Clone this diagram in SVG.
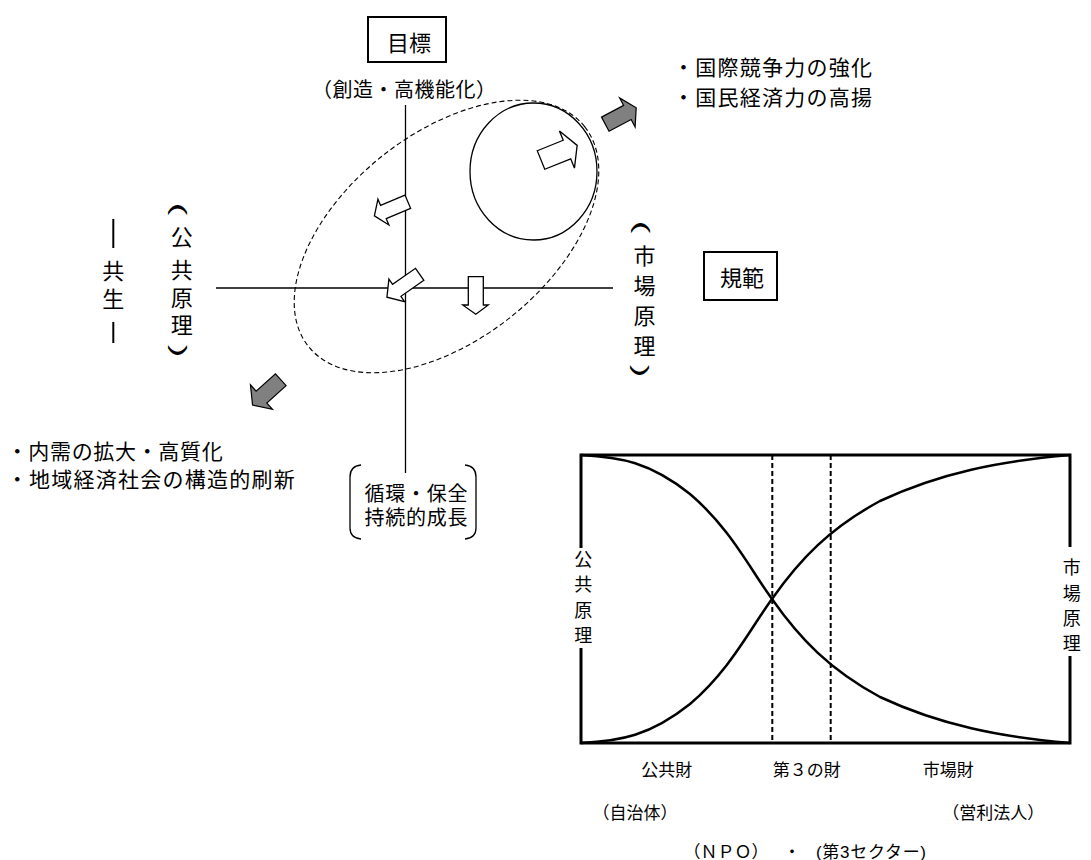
<svg xmlns="http://www.w3.org/2000/svg" width="1091" height="860" viewBox="0 0 1091 860">
<style>
text{font-family:'Liberation Sans','Noto Sans CJK JP',sans-serif;fill:#000}
.f22{font-size:22px}
.f21{font-size:21px}
.f20{font-size:20px}
.f18{font-size:18px}
.f17{font-size:17px}
.m{text-anchor:middle}
.par{font-family:'Liberation Sans',sans-serif;font-size:20px;text-anchor:middle}
.ax{stroke:#000;stroke-width:1.3;fill:none}
.dash{stroke:#000;stroke-width:1.1;fill:none;stroke-dasharray:5,3}
.wa{fill:#fff;stroke:#000;stroke-width:1.3;stroke-linejoin:miter}
.ga{fill:#808080;stroke:#000;stroke-width:1.2}
.box{fill:#fff;stroke:#000;stroke-width:2}
.thick{fill:none;stroke:#000;stroke-width:3}
.crv{fill:none;stroke:#000;stroke-width:2.5}
.vd{stroke:#000;stroke-width:2;stroke-dasharray:5,3}
</style>
<rect width="1091" height="860" fill="#fff"/>

<g id="connectors">
  <line class="ax" x1="405.5" y1="105" x2="405.5" y2="473"/>
  <line class="ax" x1="216" y1="288" x2="613" y2="288"/>
  <ellipse class="dash" cx="446.5" cy="236.5" rx="176.5" ry="103" transform="rotate(-38.5 446.5 236.5)"/>
  <ellipse class="ax" cx="533.5" cy="171.5" rx="63.5" ry="68.5"/>
  <polygon class="wa" points="0,-10 28,-10 28,-20 39,0 28,20 28,10 0,10" transform="translate(541,160) rotate(-22)"/>
  <polygon class="ga" points="0,-8 25,-8 25,-16.5 35,0 25,16.5 25,8 0,8" transform="translate(605.3,124.2) rotate(-28)"/>
  <polygon class="ga" points="0,-8 26,-8 26,-16.5 38,0 26,16.5 26,8 0,8" transform="translate(280.8,379.7) rotate(138)"/>
  <polygon class="wa" points="0,-7.2 26.5,-7.2 26.5,-14 36.3,0 26.5,14 26.5,7.2 0,7.2" transform="translate(407.8,201.7) rotate(157)"/>
  <polygon class="wa" points="0,-7.3 28,-7.3 28,-13.7 40,0 28,13.7 28,7.3 0,7.3" transform="translate(419.7,274.3) rotate(145)"/>
  <polygon class="wa" points="468.3,276.7 483.3,276.7 483.3,305 488.3,305 475.8,314.3 462.7,305 468.3,305"/>
</g>

<g id="goal">
  <rect class="box" x="368" y="17" width="78" height="45"/>
  <text class="f22 m" x="409" y="50.6">目標</text>
  <text class="f20 m" x="404" y="97.4" textLength="184" lengthAdjust="spacing">（創造・高機能化）</text>
</g>

<g id="norm">
  <rect class="box" x="704" y="252" width="73" height="48"/>
  <text class="f22 m" x="742" y="285.6">規範</text>
</g>

<g id="top-right-text">
  <text class="f21" x="673" y="74.5" textLength="199" lengthAdjust="spacing">・国際競争力の強化</text>
  <text class="f21" x="673" y="104.5" textLength="199" lengthAdjust="spacing">・国民経済力の高揚</text>
</g>

<g id="bottom-left-text">
  <text class="f21" x="6.7" y="458.5" textLength="216" lengthAdjust="spacing">・内需の拡大・高質化</text>
  <text class="f21" x="6.7" y="486.5" textLength="288" lengthAdjust="spacing">・地域経済社会の構造的刷新</text>
</g>

<g id="public-principle">
  <text class="par" transform="translate(172.3,209) rotate(90) scale(1.9,1)">(</text>
  <text class="f22 m" x="181.7" y="244.8">公</text>
  <text class="f22 m" x="181.7" y="278.1">共</text>
  <text class="f22 m" x="181.7" y="306.1">原</text>
  <text class="f22 m" x="181.7" y="333.1">理</text>
  <text class="par" transform="translate(172.3,351) rotate(90) scale(1.9,1)">)</text>
</g>

<g id="symbiosis">
  <line x1="113.3" y1="219" x2="113.3" y2="248" stroke="#000" stroke-width="2"/>
  <text class="f22 m" x="113.3" y="279.1">共</text>
  <text class="f22 m" x="113.3" y="307.1">生</text>
  <line x1="113.3" y1="322" x2="113.3" y2="343" stroke="#000" stroke-width="2"/>
</g>

<g id="market-principle">
  <text class="par" transform="translate(634.8,227) rotate(90) scale(1.9,1)">(</text>
  <text class="f22 m" x="644.5" y="264.1">市</text>
  <text class="f22 m" x="644.5" y="294.1">場</text>
  <text class="f22 m" x="644.5" y="324.1">原</text>
  <text class="f22 m" x="644.5" y="354.1">理</text>
  <text class="par" transform="translate(633.8,371) rotate(90) scale(1.9,1)">)</text>
</g>

<g id="sustain">
  <path class="ax" d="M361,465 Q350,466 350,477 L350,528 Q350,538 361,539"/>
  <path class="ax" d="M465,465 Q476,466 476,477 L476,528 Q476,538 465,539"/>
  <text class="f20 m" x="416" y="501.4" textLength="103" lengthAdjust="spacing">循環・保全</text>
  <text class="f20 m" x="416" y="525.4" textLength="103" lengthAdjust="spacing">持続的成長</text>
</g>

<g id="chart">
  <path class="thick" d="M581,548 V455 H1070 V547 M1070,656 V743 H581 V648"/>
  <line class="vd" x1="772.3" y1="455" x2="772.3" y2="743"/>
  <line class="vd" x1="830.7" y1="455" x2="830.7" y2="743"/>
  <path class="crv" d="M581,455 C620,457 650,462 690,494 C730,528 750,569 772,599 C800,639 830,670 880,697 C940,725 1000,737 1070,743"/>
  <path class="crv" d="M581,743 C620,741 650,736 690,704 C730,670 750,629 772,599 C800,559 830,528 880,501 C940,473 1000,461 1070,455"/>
  <text class="f18 m" x="583.3" y="565.7">公</text>
  <text class="f18 m" x="583.3" y="591.2">共</text>
  <text class="f18 m" x="583.3" y="616.7">原</text>
  <text class="f18 m" x="583.3" y="642.2">理</text>
  <text class="f18 m" x="1071.7" y="574.4">市</text>
  <text class="f18 m" x="1071.7" y="599.7">場</text>
  <text class="f18 m" x="1071.7" y="625">原</text>
  <text class="f18 m" x="1071.7" y="650.3">理</text>
  <text class="f17 m" x="666.7" y="776.3">公共財</text>
  <text class="f17 m" x="806.7" y="776.3">第３の財</text>
  <text class="f17 m" x="948.3" y="776.3">市場財</text>
  <text class="f17 m" x="635" y="818.8">（自治体）</text>
  <text class="f17 m" x="993.3" y="818.8">（営利法人）</text>
  <text class="f17 m" x="726" y="858">（ＮＰＯ）</text>
  <text class="f17 m" x="792" y="858">・</text>
  <text class="f17" x="816" y="858" textLength="110" lengthAdjust="spacing">(第3セクター)</text>
</g>
</svg>
